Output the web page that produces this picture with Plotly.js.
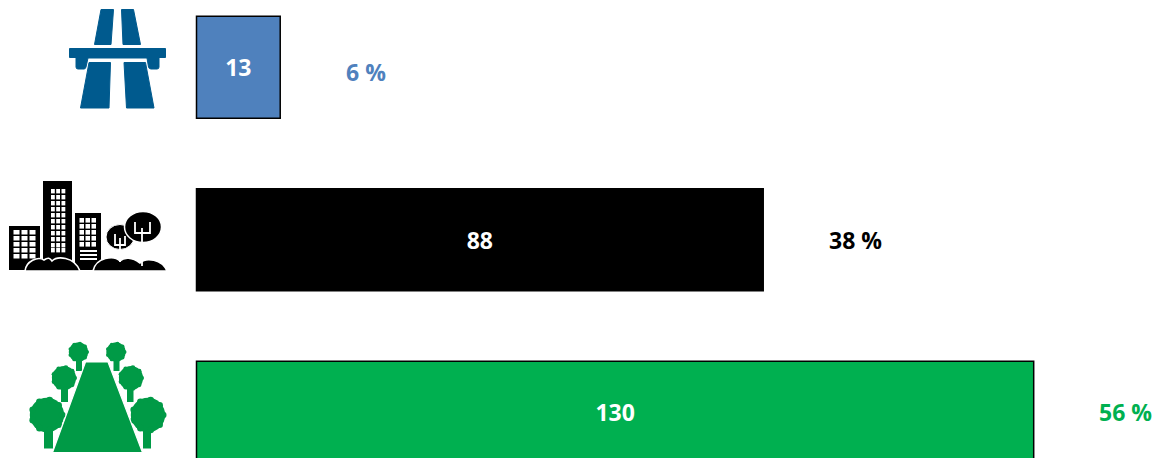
<!DOCTYPE html>
<html><head><meta charset="utf-8">
<script src="https://cdn.plot.ly/plotly-3.0.1.min.js"></script>
<style>html,body{margin:0;padding:0;background:#fff;overflow:hidden}#c{width:1156px;height:458px}</style>
</head><body><div id="c"></div>
<script>
var categories = ['Autoroute', 'Urbain', 'Rural'];
var values = [13, 88, 130];
var shares = ['6 %', '38 %', '56 %'];
var barColors = ['#4F81BD', '#000000', '#00B050'];
var W = 1156, H = 458;

function svgImage(x, y, w, h, inner) {
  var svg = '<svg xmlns="http://www.w3.org/2000/svg" width="' + w + '" height="' + h + '" viewBox="' + x + ' ' + y + ' ' + w + ' ' + h + '">' + inner + '</svg>';
  return {source: 'data:image/svg+xml;charset=utf-8,' + encodeURIComponent(svg), xref: 'paper', yref: 'paper',
    x: x / W, y: 1 - y / H, sizex: w / W, sizey: h / H, xanchor: 'left', yanchor: 'top', sizing: 'stretch', layer: 'above'};
}

var road = '<g fill="#005A8E" stroke="#005A8E" stroke-width="1" stroke-linejoin="round">' +
  '<path d="M101 9.5H113.5L111 44.5H94.5Z"/><path d="M121.5 9.5H133.5L140.5 44.5H123Z"/>' +
  '<path d="M69.5 48.5H165.5V57.5H159V67Q159 69 157 69H151Q149 69 148.5 67L147 58H88L86 67Q85.5 69 84 69H78Q76 69 76 67V57.5H69.5Z"/>' +
  '<path d="M89 62.5H110.5L109 108H80.5Z"/><path d="M124 62.5H145.5L154 108H126.5Z"/></g>';

var city = '<path fill="#000" d="M9 226H40V270H9ZM43 181H72V270H43ZM75 213H101V270H75Z"/>';
function windows(xs, ys, w, h) {
  var s = '';
  xs.forEach(function (x) { ys.forEach(function (y) { s += '<rect x="' + x + '" y="' + y + '" width="' + w + '" height="' + h + '" fill="#fff"/>'; }); });
  return s;
}
city += windows([13.5, 21.5, 29.5], [230, 236, 242, 248, 254], 6, 4.5);
city += windows([51, 56.2, 61.5], [189, 195, 201, 207, 213, 219, 225, 231, 237, 243, 248], 3.8, 4.4);
city += windows([79.5, 85.5, 91.5], [218, 224, 230, 236, 242], 4.5, 4.6);
city += '<path fill="#fff" d="M80 250H97V252H80ZM80 254H97V256H80ZM80 258H97V260H80Z"/>';
city += '<path fill="#000" stroke="#fff" stroke-width="1.6" d="M25 271C26 261 38 256 44 260C48 257 50 258 52 261C57 256 74 256 80 271Z"/>';
city += '<path fill="#000" stroke="#fff" stroke-width="1.6" d="M93 271C96 257 114 255 120 261C124 257 132 257 140 263C146 257 162 259 167 271Z"/>';
city += '<g fill="#000"><ellipse cx="120" cy="237" rx="14" ry="12.5" stroke="#fff" stroke-width="1"/>' +
  '<ellipse cx="143" cy="227" rx="18.5" ry="15.5" stroke="#fff" stroke-width="1.5"/></g>';
city += '<path fill="none" stroke="#fff" stroke-width="1.8" d="M120 262V238M120 245H115V234M120 245H125V236M142 266V228M142 233H135V222M142 233H150V222"/>';

function tree(cx, cy, r) {
  var s = '<circle cx="' + cx + '" cy="' + cy + '" r="' + (r * 0.93) + '"/>';
  for (var k = 0; k < 9; k++) {
    var a = k * 40 * Math.PI / 180;
    s += '<circle cx="' + (cx + 0.82 * r * Math.cos(a)) + '" cy="' + (cy + 0.82 * r * Math.sin(a)) + '" r="' + (0.18 * r) + '"/>';
  }
  return s;
}
var park = '<g fill="#009A46">' +
  tree(78.5, 352, 10.5) + tree(116, 352, 10.5) + tree(64, 378, 13) + tree(131, 378, 13) + tree(47, 415, 18.5) + tree(148, 415, 18.5) +
  '<rect x="76" y="360" width="6" height="11"/><rect x="113.5" y="360" width="6" height="11"/>' +
  '<rect x="61" y="388" width="7" height="14"/><rect x="127" y="388" width="6.5" height="14"/>' +
  '<rect x="44" y="430" width="9" height="18.5"/><rect x="143" y="430" width="8" height="18.5"/></g>' +
  '<path fill="#009A46" stroke="#fff" stroke-width="1.2" d="M85.5 362H108L142.5 452.5H52.5Z"/>';

var data = [{
  type: 'bar', orientation: 'h', y: categories, x: values, width: 0.592,
  marker: {color: barColors, line: {color: '#000000', width: 1.5}},
  text: values.map(String), textposition: 'inside', insidetextanchor: 'middle', constraintext: 'none',
  textangle: 0, insidetextfont: {family: '"Open Sans", sans-serif', size: 23, color: '#ffffff', weight: 700},
  hoverinfo: 'skip', cliponaxis: true
}];

var pxPerUnit = 6.44, x0 = 196.5, y0 = 67.3, step = 172.5;
var annotations = categories.map(function (c, i) {
  return {x: values[i], y: c, xref: 'x', yref: 'y', text: '<b>' + shares[i] + '</b>', showarrow: false,
    xanchor: 'left', yanchor: 'middle', xshift: 63.5, yshift: i === 0 ? -5 : 0,
    font: {family: '"Open Sans", sans-serif', size: 23, color: barColors[i]}};
});

var layout = {
  width: W, height: H, margin: {l: 0, r: 0, t: 0, b: 0, pad: 0}, showlegend: false,
  paper_bgcolor: '#fff', plot_bgcolor: '#fff',
  xaxis: {visible: false, range: [-x0 / pxPerUnit, (W - x0) / pxPerUnit], fixedrange: true},
  yaxis: {visible: false, type: 'category', categoryorder: 'array', categoryarray: categories,
    range: [(H - y0) / step, -y0 / step], fixedrange: true},
  annotations: annotations,
  images: [svgImage(60, 0, 115, 115, road), svgImage(0, 175, 175, 102, city), svgImage(20, 335, 155, 122, park)]
};
Plotly.newPlot('c', data, layout, {staticPlot: true, displayModeBar: false});
</script></body></html>
